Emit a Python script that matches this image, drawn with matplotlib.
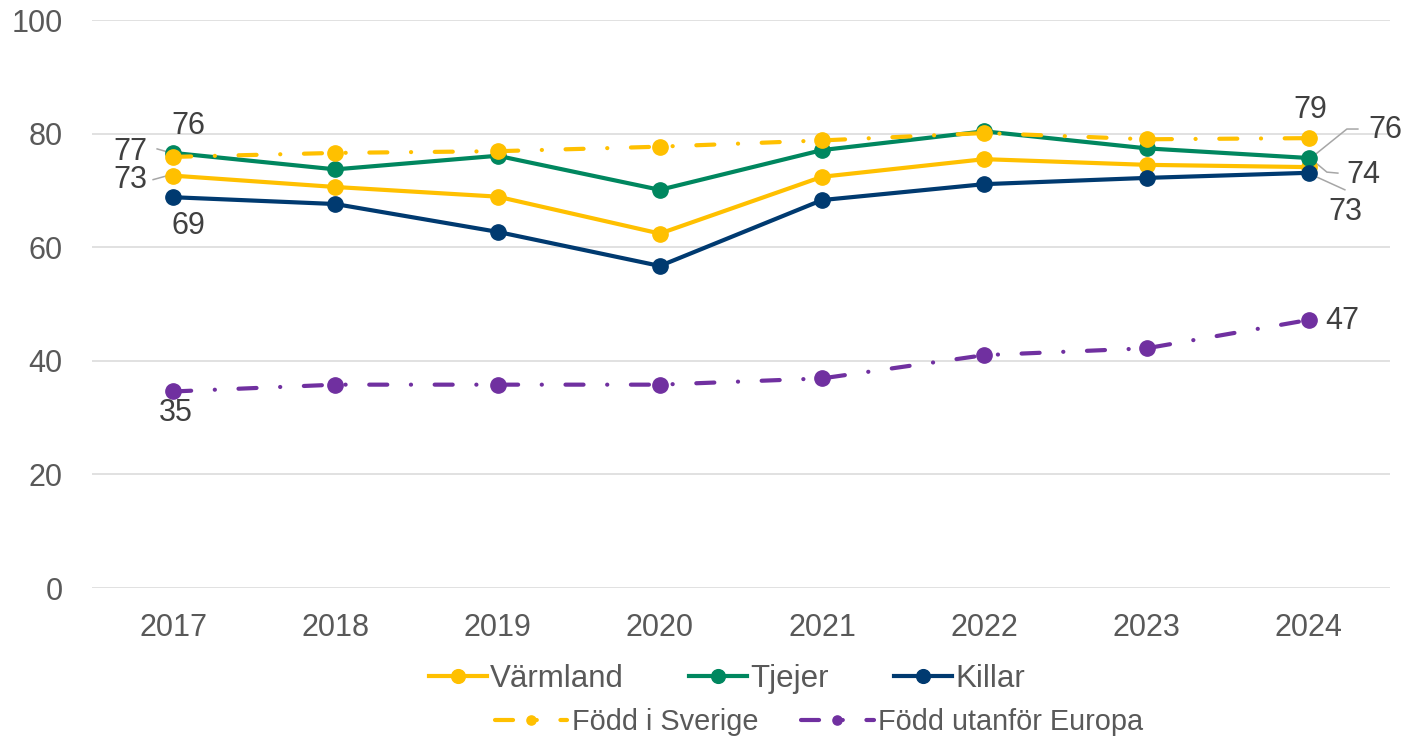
import matplotlib
matplotlib.use("Agg")
import matplotlib.pyplot as plt
from matplotlib.transforms import IdentityTransform, ScaledTranslation

plt.rcParams['font.family'] = ['Liberation Sans', 'DejaVu Sans']
plt.rcParams['lines.scale_dashes'] = False

years = ["2017", "2018", "2019", "2020", "2021", "2022", "2023", "2024"]
varmland = [72.6, 70.6, 68.9, 62.4, 72.4, 75.5, 74.5, 74.1]
tjejer = [76.6, 73.7, 76.1, 70.1, 77.1, 80.4, 77.4, 75.7]
killar = [68.8, 67.6, 62.7, 56.7, 68.3, 71.1, 72.2, 73.1]
sverige = [75.9, 76.6, 76.9, 77.7, 78.8, 80.1, 79.0, 79.2]
utanfor = [34.6, 35.8, 35.8, 35.8, 36.9, 41.0, 42.2, 47.2]

label_varmland = "Värmland"
label_tjejer = "Tjejer"
label_killar = "Killar"
label_sverige = "Född i Sverige"
label_utanfor = "Född utanför Europa"

YELLOW = "#FFC000"
GREEN = "#00875F"
NAVY = "#003A70"
PURPLE = "#7030A0"
TXT = "#595959"
LBL = "#404040"

fig = plt.figure(figsize=(14.08, 7.43), dpi=100)
ax = fig.add_axes([92/1408, 1-588/743, (1390-92)/1408, (588-20)/743])

x = list(range(len(years)))
lw = 3.0
ms = 11
dashdot = (0, (13, 17, 0.1, 17))

l1, = ax.plot(x, varmland, color=YELLOW, lw=lw, marker='o', ms=ms, label=label_varmland, zorder=3)
l2, = ax.plot(x, tjejer, color=GREEN, lw=lw, marker='o', ms=ms, label=label_tjejer, zorder=4)
l3, = ax.plot(x, killar, color=NAVY, lw=lw, marker='o', ms=ms, label=label_killar, zorder=5)
l4, = ax.plot(x, sverige, color=YELLOW, lw=lw, marker='o', ms=ms, ls=dashdot,
              dash_capstyle='round', label=label_sverige, zorder=6)
l5, = ax.plot(x, utanfor, color=PURPLE, lw=lw, marker='o', ms=ms, ls=dashdot,
              dash_capstyle='round', label=label_utanfor, zorder=6)

ax.set_xlim(-0.5, len(years) - 0.5)
ax.set_ylim(0, 100)
ax.set_yticks([0, 20, 40, 60, 80, 100])
ax.set_xticks(x)
ax.set_xticklabels(years)
ax.grid(axis='y', color='#D9D9D9', lw=1.1)
ax.set_axisbelow(True)
for s in ax.spines.values():
    s.set_visible(False)
ax.tick_params(axis='y', length=0, pad=21, labelsize=22, labelcolor=TXT)
ax.tick_params(axis='x', length=0, pad=18, labelsize=22, labelcolor=TXT)


def label(i, series, dx, dy, leader=None):
    """dx, dy in pixels (image orientation: dy positive = down)."""
    val = series[i]
    ax.annotate(f"{round(val):d}", xy=(i, val), xytext=(dx, -dy), textcoords='offset pixels',
                ha='center', va='center', fontsize=22, color=LBL, zorder=10)
    if leader:
        tr = IdentityTransform() + ScaledTranslation(i, val, ax.transData)
        xs = [p[0] for p in leader]
        ys = [-p[1] for p in leader]
        ax.plot(xs, ys, transform=tr, color='#A6A6A6', lw=1.1, zorder=2.5, clip_on=False)


last = len(years) - 1
label(0, tjejer, -43, -1, leader=[(-16, -4), (-2, 0)])
label(0, sverige, 15, -31)
label(0, varmland, -43, 4, leader=[(-20, 4), (-2, -1)])
label(0, killar, 15, 29)
label(0, utanfor, 3, 22)
label(last, sverige, 1, -28)
label(last, tjejer, 76, -28, leader=[(2, 0), (38, -29), (49, -29)])
label(last, varmland, 54, 8, leader=[(6, -5), (18, 5), (29, 6)])
label(last, killar, 36, 39, leader=[(3, 2), (36, 17)])
label(last, utanfor, 33, 1)

leg1 = fig.legend(handles=[l1, l2, l3], loc='center', bbox_to_anchor=(727/1408, 1-679/743),
                  ncol=3, frameon=False, fontsize=22.5, handlelength=1.85, handletextpad=0.1,
                  columnspacing=2.1, borderpad=0, labelcolor=TXT)
leg2 = fig.legend(handles=[l4, l5], loc='center', bbox_to_anchor=(819/1408, 1-722/743),
                  ncol=2, frameon=False, fontsize=20.8, handlelength=2.5, handletextpad=0.15,
                  columnspacing=1.5, borderpad=0, labelcolor=TXT, markerscale=0.6)
for lh in leg1.legend_handles:
    lh.set_markersize(ms * 0.9)

fig.savefig("out.png", dpi=100)
